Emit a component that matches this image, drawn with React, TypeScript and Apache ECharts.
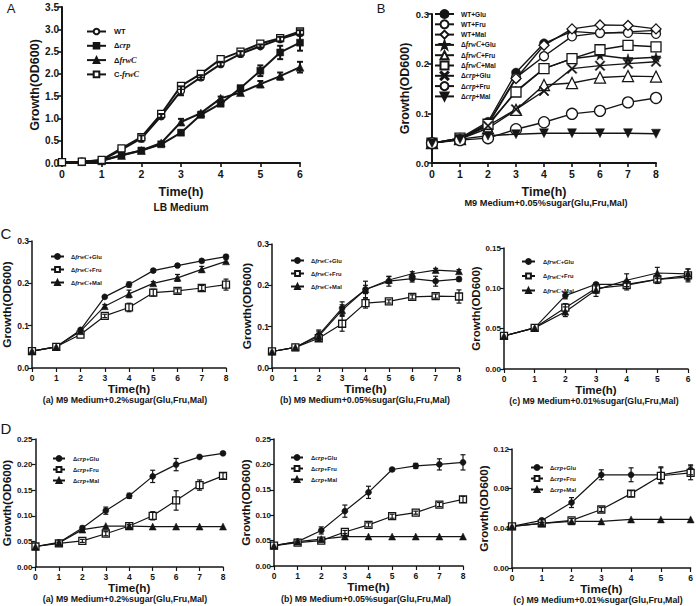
import React, { useEffect, useRef } from "react";
import * as echarts from "echarts";

const INK = "#151515";
const SANS = "'Liberation Sans', Arial, Helvetica, sans-serif";
const SERIF = "'Liberation Serif', 'Times New Roman', serif";

// ---------- Panel A : LB medium ----------
const timeA = [0, 0.5, 1, 1.5, 2, 2.5, 3, 3.5, 4, 4.5, 5, 5.5, 6];
const aLabels = ["WT", "Δcrp", "ΔfrwC", "C-frwC"];
const aWT = [0.02, 0.03, 0.06, 0.3, 0.55, 1.05, 1.62, 1.92, 2.22, 2.45, 2.62, 2.78, 2.92];
const aWTErr = [0, 0, 0, 0, 0.07, 0.05, 0.1, 0.05, 0.05, 0.06, 0.04, 0.05, 0.06];
const aCrp = [0.02, 0.03, 0.05, 0.18, 0.28, 0.42, 0.68, 1.08, 1.33, 1.68, 2.07, 2.48, 2.7];
const aCrpErr = [0, 0, 0, 0, 0, 0.03, 0.05, 0.03, 0.05, 0.05, 0.12, 0.15, 0.18];
const aFrwC = [0.02, 0.03, 0.05, 0.17, 0.28, 0.45, 0.92, 1.12, 1.45, 1.58, 1.77, 1.95, 2.15];
const aFrwCErr = [0, 0, 0, 0, 0, 0, 0.07, 0.03, 0.04, 0.04, 0.07, 0.08, 0.12];
const aCfrwC = [0.02, 0.03, 0.07, 0.33, 0.58, 1.1, 1.73, 2.0, 2.33, 2.5, 2.68, 2.8, 2.95];
const aCfrwCErr = [0, 0, 0, 0, 0, 0, 0, 0, 0, 0, 0, 0, 0];

// ---------- Panel B : M9 + 0.05% sugar ----------
const timeB = [0, 1, 2, 3, 4, 5, 6, 7, 8];
const bLabels = ["WT+Glu", "WT+Fru", "WT+Mal", "ΔfrwC+Glu", "ΔfrwC+Fru", "ΔfrwC+Mal", "Δcrp+Glu", "Δcrp+Fru", "Δcrp+Mal"];
const bWTGlu = [0.04, 0.05, 0.083, 0.182, 0.241, 0.265, 0.261, 0.264, 0.267];
const bWTFru = [0.04, 0.048, 0.08, 0.172, 0.215, 0.255, 0.262, 0.262, 0.26];
const bWTMal = [0.04, 0.047, 0.078, 0.17, 0.237, 0.27, 0.278, 0.277, 0.27];
const bFrwCGlu = [0.04, 0.05, 0.075, 0.145, 0.19, 0.21, 0.217, 0.21, 0.213];
const bFrwCFru = [0.04, 0.048, 0.07, 0.107, 0.157, 0.161, 0.172, 0.175, 0.174];
const bFrwCMal = [0.04, 0.05, 0.078, 0.143, 0.19, 0.21, 0.228, 0.237, 0.234];
const bCrpGlu = [0.04, 0.048, 0.075, 0.108, 0.145, 0.19, 0.196, 0.2, 0.204];
const bCrpFru = [0.04, 0.046, 0.05, 0.068, 0.082, 0.099, 0.105, 0.122, 0.131];
const bCrpMal = [0.04, 0.048, 0.055, 0.058, 0.06, 0.06, 0.06, 0.06, 0.059];

// ---------- Panels C / D ----------
const time8 = [0, 1, 2, 3, 4, 5, 6, 7, 8];
const time6 = [0, 1, 2, 3, 4, 5, 6];
const frwLabels = ["ΔfrwC+Glu", "ΔfrwC+Fru", "ΔfrwC+Mal"];
const crpLabels = ["Δcrp+Glu", "Δcrp+Fru", "Δcrp+Mal"];

const c1Glu = [0.04, 0.05, 0.09, 0.168, 0.197, 0.23, 0.242, 0.253, 0.263];
const c1GluErr = [0, 0, 0, 0.003, 0.006, 0.004, 0.004, 0.004, 0.004];
const c1Fru = [0.04, 0.05, 0.079, 0.123, 0.143, 0.178, 0.182, 0.189, 0.197];
const c1FruErr = [0, 0, 0, 0.004, 0.01, 0.008, 0.005, 0.006, 0.013];
const c1Mal = [0.04, 0.05, 0.087, 0.146, 0.175, 0.2, 0.213, 0.233, 0.252];
const c1MalErr = [0, 0, 0.003, 0.004, 0.009, 0.004, 0.008, 0.007, 0.005];

const c2Glu = [0.04, 0.05, 0.08, 0.145, 0.19, 0.21, 0.216, 0.21, 0.215];
const c2GluErr = [0, 0, 0.012, 0.015, 0.02, 0.012, 0.008, 0.012, 0.005];
const c2Fru = [0.04, 0.05, 0.072, 0.107, 0.157, 0.161, 0.172, 0.174, 0.173];
const c2FruErr = [0, 0, 0.005, 0.018, 0.012, 0.004, 0.005, 0.005, 0.016];
const c2Mal = [0.04, 0.05, 0.077, 0.14, 0.19, 0.213, 0.228, 0.237, 0.234];
const c2MalErr = [0, 0, 0.012, 0.013, 0.01, 0.008, 0.005, 0.004, 0.004];

const c3Glu = [0.041, 0.051, 0.091, 0.105, 0.105, 0.111, 0.114];
const c3GluErr = [0, 0, 0.004, 0.002, 0.003, 0.003, 0.004];
const c3Fru = [0.041, 0.051, 0.076, 0.1, 0.104, 0.111, 0.116];
const c3FruErr = [0, 0, 0.005, 0.006, 0.006, 0.005, 0.008];
const c3Mal = [0.041, 0.051, 0.071, 0.098, 0.11, 0.119, 0.118];
const c3MalErr = [0, 0, 0.006, 0.008, 0.008, 0.007, 0.006];

const d1Glu = [0.04, 0.048, 0.076, 0.11, 0.139, 0.177, 0.2, 0.215, 0.222];
const d1GluErr = [0, 0.003, 0.004, 0.007, 0.005, 0.012, 0.012, 0.003, 0.003];
const d1Fru = [0.04, 0.046, 0.051, 0.065, 0.08, 0.1, 0.13, 0.16, 0.178];
const d1FruErr = [0, 0.002, 0.003, 0.004, 0.003, 0.008, 0.019, 0.01, 0.006];
const d1Mal = [0.04, 0.047, 0.073, 0.08, 0.08, 0.079, 0.079, 0.079, 0.079];

const d2Glu = [0.04, 0.048, 0.07, 0.108, 0.145, 0.19, 0.197, 0.2, 0.204];
const d2GluErr = [0, 0.003, 0.007, 0.012, 0.012, 0.003, 0.005, 0.011, 0.015];
const d2Fru = [0.04, 0.046, 0.05, 0.067, 0.081, 0.098, 0.105, 0.121, 0.131];
const d2FruErr = [0, 0.002, 0.003, 0.003, 0.004, 0.004, 0.003, 0.004, 0.006];
const d2Mal = [0.04, 0.048, 0.053, 0.058, 0.058, 0.058, 0.058, 0.058, 0.058];

const d3Glu = [0.042, 0.048, 0.066, 0.094, 0.094, 0.094, 0.099];
const d3GluErr = [0, 0.002, 0.005, 0.005, 0.007, 0.008, 0.005];
const d3Fru = [0.042, 0.045, 0.048, 0.059, 0.075, 0.093, 0.096];
const d3FruErr = [0, 0.001, 0.002, 0.002, 0.003, 0.008, 0.007];
const d3Mal = [0.042, 0.045, 0.047, 0.047, 0.049, 0.049, 0.049];

const subtitles = [
  "LB Medium",
  "M9 Medium+0.05%sugar(Glu,Fru,Mal)",
  "(a) M9 Medium+0.2%sugar(Glu,Fru,Mal)",
  "(b) M9 Medium+0.05%sugar(Glu,Fru,Mal)",
  "(c) M9 Medium+0.01%sugar(Glu,Fru,Mal)",
];

// ---------- styling helpers ----------
type Kind =
  | "dot" | "ring" | "box" | "openBox" | "tri" | "openTri" | "downTri"
  | "star" | "cross" | "openDiamond";

const SYMBOLS: Record<Kind, { symbol: string; filled: boolean }> = {
  dot: { symbol: "circle", filled: true },
  ring: { symbol: "circle", filled: false },
  box: { symbol: "rect", filled: true },
  openBox: { symbol: "rect", filled: false },
  tri: { symbol: "triangle", filled: true },
  openTri: { symbol: "triangle", filled: false },
  downTri: { symbol: "path://M0,0L10,0L5,9Z", filled: true },
  star: {
    symbol: "path://M5,0L6.2,3.6L10,3.6L6.9,5.8L8.1,9.5L5,7.2L1.9,9.5L3.1,5.8L0,3.6L3.8,3.6Z",
    filled: true,
  },
  cross: {
    symbol: "path://M1,0L5,4L9,0L10,1L6,5L10,9L9,10L5,6L1,10L0,9L4,5L0,1Z",
    filled: true,
  },
  openDiamond: { symbol: "diamond", filled: false },
};

type Curve = { label: string; values: number[]; errors?: number[]; kind: Kind; size: number };
type LegendBox = { left: number; top: number; itemWidth: number; itemHeight: number; itemGap: number; fontSize: number; pad: number };
type Panel = {
  id: string;
  grid: { left: number; top: number; width: number; height: number };
  x: number[];
  xMax: number;
  yMax: number;
  yInt: number;
  dec: number;
  curves: Curve[];
  legend: LegendBox;
  lineW: number;
  axisW: number;
  tickFs: number;
  xTickFs: number;
  nameFs: number;
  yNameGap: number;
  xNameGap: number;
  cap: number;
};

const cdCurves = (labels: string[], g: number[], ge: number[] | undefined, f: number[], fe: number[] | undefined, m: number[], me: number[] | undefined): Curve[] => [
  { label: labels[0], values: g, errors: ge, kind: "dot", size: 6 },
  { label: labels[1], values: f, errors: fe, kind: "openBox", size: 7 },
  { label: labels[2], values: m, errors: me, kind: "tri", size: 7 },
];

const smallLegend = (left: number, top: number, itemWidth: number, itemGap: number, pad: number): LegendBox => ({
  left, top, itemWidth, itemHeight: 6, itemGap, fontSize: 5.8, pad,
});

const panels: Panel[] = [
  {
    id: "A", grid: { left: 62, top: 7, width: 238, height: 156 }, x: timeA, xMax: 6, yMax: 3.5, yInt: 0.5, dec: 1,
    curves: [
      { label: aLabels[0], values: aWT, errors: aWTErr, kind: "ring", size: 7 },
      { label: aLabels[1], values: aCrp, errors: aCrpErr, kind: "box", size: 7 },
      { label: aLabels[2], values: aFrwC, errors: aFrwCErr, kind: "tri", size: 8 },
      { label: aLabels[3], values: aCfrwC, errors: aCfrwCErr, kind: "openBox", size: 7 },
    ],
    legend: { left: 86, top: 27.5, itemWidth: 19, itemHeight: 7, itemGap: 6.3, fontSize: 7.5, pad: 3 },
    lineW: 2, axisW: 2, tickFs: 10, xTickFs: 10.5, nameFs: 12.5, yNameGap: 21, xNameGap: 22, cap: 3,
  },
  {
    id: "B", grid: { left: 432, top: 14, width: 224, height: 149 }, x: timeB, xMax: 8, yMax: 0.3, yInt: 0.1, dec: 1,
    curves: [
      { label: bLabels[0], values: bWTGlu, kind: "dot", size: 9 },
      { label: bLabels[1], values: bWTFru, kind: "ring", size: 9 },
      { label: bLabels[2], values: bWTMal, kind: "openDiamond", size: 10 },
      { label: bLabels[3], values: bFrwCGlu, kind: "star", size: 10 },
      { label: bLabels[4], values: bFrwCFru, kind: "openTri", size: 11 },
      { label: bLabels[5], values: bFrwCMal, kind: "openBox", size: 10 },
      { label: bLabels[6], values: bCrpGlu, kind: "cross", size: 10 },
      { label: bLabels[7], values: bCrpFru, kind: "ring", size: 11 },
      { label: bLabels[8], values: bCrpMal, kind: "downTri", size: 9 },
    ],
    legend: { left: 434, top: 9, itemWidth: 19, itemHeight: 10, itemGap: 0.3, fontSize: 6.6, pad: 2 },
    lineW: 1.4, axisW: 2, tickFs: 9.5, xTickFs: 10.5, nameFs: 12.5, yNameGap: 21, xNameGap: 22, cap: 3,
  },
  {
    id: "C1", grid: { left: 32, top: 241, width: 194, height: 127 }, x: time8, xMax: 8, yMax: 0.3, yInt: 0.1, dec: 1,
    curves: cdCurves(frwLabels, c1Glu, c1GluErr, c1Fru, c1FruErr, c1Mal, c1MalErr),
    legend: smallLegend(50, 253, 13, 6, 2),
    lineW: 1.2, axisW: 1.5, tickFs: 8.5, xTickFs: 8.5, nameFs: 11.8, yNameGap: 17, xNameGap: 12, cap: 2.5,
  },
  {
    id: "C2", grid: { left: 272, top: 244, width: 187, height: 124 }, x: time8, xMax: 8, yMax: 0.3, yInt: 0.1, dec: 1,
    curves: cdCurves(frwLabels, c2Glu, c2GluErr, c2Fru, c2FruErr, c2Mal, c2MalErr),
    legend: smallLegend(290, 257, 13, 6, 2),
    lineW: 1.2, axisW: 1.5, tickFs: 8.5, xTickFs: 8.5, nameFs: 11.8, yNameGap: 18, xNameGap: 12, cap: 2.5,
  },
  {
    id: "C3", grid: { left: 504, top: 248, width: 184, height: 121 }, x: time6, xMax: 6, yMax: 0.15, yInt: 0.05, dec: 2,
    curves: cdCurves(frwLabels, c3Glu, c3GluErr, c3Fru, c3FruErr, c3Mal, c3MalErr),
    legend: smallLegend(521, 258, 13, 7.5, 3),
    lineW: 1.2, axisW: 1.5, tickFs: 8, xTickFs: 8.5, nameFs: 11.5, yNameGap: 21, xNameGap: 10, cap: 2.5,
  },
  {
    id: "D1", grid: { left: 33, top: 439, width: 190, height: 128 }, x: time8, xMax: 8, yMax: 0.25, yInt: 0.05, dec: 2,
    curves: cdCurves(crpLabels, d1Glu, d1GluErr, d1Fru, d1FruErr, d1Mal, undefined),
    legend: smallLegend(52, 455, 12, 4, 3),
    lineW: 1.2, axisW: 1.5, tickFs: 8, xTickFs: 8.5, nameFs: 11.8, yNameGap: 17, xNameGap: 12, cap: 2.5,
  },
  {
    id: "D2", grid: { left: 274, top: 439, width: 189, height: 127 }, x: time8, xMax: 8, yMax: 0.25, yInt: 0.05, dec: 2,
    curves: cdCurves(crpLabels, d2Glu, d2GluErr, d2Fru, d2FruErr, d2Mal, undefined),
    legend: smallLegend(290, 454, 12, 4, 3),
    lineW: 1.2, axisW: 1.5, tickFs: 8, xTickFs: 8.5, nameFs: 11.8, yNameGap: 22, xNameGap: 12, cap: 2.5,
  },
  {
    id: "D3", grid: { left: 512, top: 449, width: 180, height: 119 }, x: time6, xMax: 6, yMax: 0.12, yInt: 0.04, dec: 2,
    curves: cdCurves(crpLabels, d3Glu, d3GluErr, d3Fru, d3FruErr, d3Mal, undefined),
    legend: smallLegend(530, 464, 12, 4, 2),
    lineW: 1.2, axisW: 1.5, tickFs: 8, xTickFs: 8.5, nameFs: 11.8, yNameGap: 19, xNameGap: 11, cap: 2.5,
  },
];

const subtitlePos = [
  { x: 181, y: 207, size: 10.2 },
  { x: 546, y: 203, size: 9.2 },
  { x: 125, y: 399.5, size: 8.8 },
  { x: 365, y: 400, size: 8.8 },
  { x: 594, y: 401, size: 8.8 },
  { x: 125, y: 599, size: 8.8 },
  { x: 366, y: 599, size: 8.8 },
  { x: 598, y: 599.5, size: 8.8 },
];
const subtitleIdx = [0, 1, 2, 3, 4, 2, 3, 4];

const letters = [
  { t: "A", x: 11, y: 8, size: 13 },
  { t: "B", x: 381, y: 8, size: 13 },
  { t: "C", x: 6, y: 233, size: 15 },
  { t: "D", x: 6, y: 428, size: 15 },
];

const richName = (s: string) => s.replace(/(crp|frwC)/, "{i|$1}");

function buildOption() {
  const grid: any[] = [];
  const xAxis: any[] = [];
  const yAxis: any[] = [];
  const series: any[] = [];
  const legend: any[] = [];
  const labelOf: Record<string, string> = {};

  panels.forEach((p, i) => {
    grid.push({ ...p.grid });
    const axisLine = { show: true, onZero: false, lineStyle: { color: INK, width: p.axisW } };
    const axisTick = { show: true, length: 4, lineStyle: { color: INK, width: p.axisW * 0.8 } };
    const nameStyle = { color: INK, fontFamily: SANS, fontWeight: "bold", fontSize: p.nameFs };
    xAxis.push({
      type: "value", gridIndex: i, min: 0, max: p.xMax, interval: 1,
      axisLine, axisTick, splitLine: { show: false },
      axisLabel: { color: INK, fontFamily: SANS, fontWeight: "bold", fontSize: p.xTickFs, margin: 5 },
      name: "Time(h)", nameLocation: "middle", nameGap: p.xNameGap, nameTextStyle: nameStyle,
    });
    yAxis.push({
      type: "value", gridIndex: i, min: 0, max: p.yMax, interval: p.yInt,
      axisLine, axisTick, splitLine: { show: false },
      axisLabel: {
        color: INK, fontFamily: SANS, fontWeight: "bold", fontSize: p.tickFs, margin: 3,
        formatter: (v: number) => v.toFixed(p.dec),
      },
      name: "Growth(OD600)", nameLocation: "middle", nameGap: p.yNameGap, nameRotate: 90,
      nameTextStyle: nameStyle,
    });

    const names: string[] = [];
    const errData: number[][] = [];
    p.curves.forEach((c) => {
      const name = `${p.id}:${c.label}`;
      labelOf[name] = c.label;
      names.push(name);
      const sym = SYMBOLS[c.kind];
      series.push({
        type: "line", name, xAxisIndex: i, yAxisIndex: i,
        data: p.x.map((t, j) => [t, c.values[j]]),
        symbol: sym.symbol, symbolSize: c.size, showSymbol: true, showAllSymbol: true,
        lineStyle: { color: INK, width: p.lineW },
        itemStyle: sym.filled
          ? { color: INK, borderColor: INK, borderWidth: 0.5 }
          : { color: "#ffffff", borderColor: INK, borderWidth: 1.3 },
        emphasis: { disabled: true }, silent: true, z: 3,
      });
      if (c.errors) {
        c.errors.forEach((e, j) => {
          if (e > 0) errData.push([p.x[j], c.values[j] - e, c.values[j] + e]);
        });
      }
    });
    if (errData.length) {
      const cap = p.cap;
      const w = p.lineW;
      series.push({
        type: "custom", xAxisIndex: i, yAxisIndex: i, silent: true, z: 4,
        data: errData,
        renderItem: (_params: any, api: any) => {
          const x = api.value(0);
          const lo = api.coord([x, api.value(1)]);
          const hi = api.coord([x, api.value(2)]);
          const st = { stroke: INK, lineWidth: w };
          return {
            type: "group",
            children: [
              { type: "line", shape: { x1: lo[0], y1: lo[1], x2: hi[0], y2: hi[1] }, style: st },
              { type: "line", shape: { x1: lo[0] - cap, y1: lo[1], x2: lo[0] + cap, y2: lo[1] }, style: st },
              { type: "line", shape: { x1: hi[0] - cap, y1: hi[1], x2: hi[0] + cap, y2: hi[1] }, style: st },
            ],
          };
        },
      });
    }
    const L = p.legend;
    legend.push({
      show: true, data: names, orient: "vertical", left: L.left, top: L.top, padding: 0,
      itemWidth: L.itemWidth, itemHeight: L.itemHeight, itemGap: L.itemGap, selectedMode: false,
      formatter: (n: string) => richName(labelOf[n] || n),
      textStyle: {
        color: INK, fontFamily: SANS, fontWeight: "bold", fontSize: L.fontSize,
        padding: [0, 0, 0, L.pad],
        rich: {
          i: { color: INK, fontFamily: SERIF, fontStyle: "italic", fontWeight: "bold", fontSize: L.fontSize + 0.8 },
        },
      },
    });
  });

  const graphic: any[] = [];
  subtitlePos.forEach((s, k) => {
    const text = subtitles[subtitleIdx[k]];
    graphic.push({
      type: "text", x: s.x, y: s.y, silent: true,
      style: {
        text, fill: INK, fontFamily: SANS, fontWeight: "bold", fontSize: s.size,
        align: "center", verticalAlign: "middle", textAlign: "center", textVerticalAlign: "middle",
      },
    });
  });
  letters.forEach((l) => {
    graphic.push({
      type: "text", x: l.x, y: l.y, silent: true,
      style: {
        text: l.t, fill: INK, fontFamily: SANS, fontWeight: "normal", fontSize: l.size,
        align: "center", verticalAlign: "middle", textAlign: "center", textVerticalAlign: "middle",
      },
    });
  });

  return {
    animation: false,
    backgroundColor: "#ffffff",
    grid, xAxis, yAxis, series, legend, graphic,
  };
}

export default function App() {
  const ref = useRef<HTMLDivElement>(null);
  useEffect(() => {
    if (!ref.current) return;
    const chart = echarts.init(ref.current, undefined, { renderer: "svg" });
    chart.setOption(buildOption() as any);
    return () => chart.dispose();
  }, []);
  return (
    <div
      ref={ref}
      style={{ position: "absolute", left: 0, top: 0, width: 696, height: 606, background: "#fff" }}
    />
  );
}
